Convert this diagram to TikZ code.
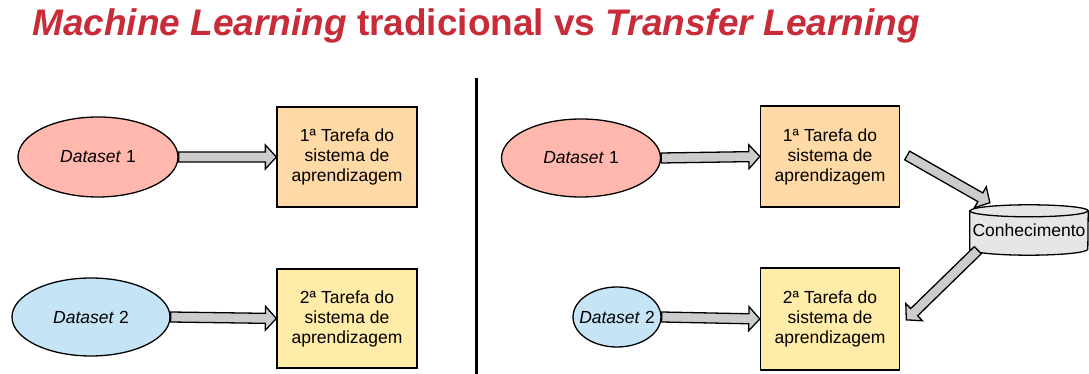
\documentclass[tikz,border=0pt]{standalone}
\usepackage{fontspec}
\setmainfont{Liberation Sans}
\usetikzlibrary{calc,shapes.geometric,backgrounds}

\definecolor{titlered}{RGB}{201,44,57}
\definecolor{dsred}{RGB}{255,183,174}
\definecolor{dsblue}{RGB}{197,228,245}
\definecolor{taskorange}{RGB}{255,217,166}
\definecolor{taskyellow}{RGB}{255,236,168}
\definecolor{arrowgray}{RGB}{204,204,204}
\definecolor{kngray}{RGB}{230,230,230}

% block arrow from #1 to #2
\newcommand{\blockarrow}[2]{%
  \path let \p1=($(#2)-(#1)$) in
    \pgfextra{\pgfmathsetmacro\arrang{atan2(\y1,\x1)}%
      \pgfmathsetmacro\arrlen{veclen(\x1,\y1)}%
      \global\let\arrang\arrang \global\let\arrlen\arrlen};
  \begin{scope}[shift={(#1)},rotate=\arrang]
    \draw[blockarr] (0,-5) -- ({\arrlen-11},-5) -- ({\arrlen-11},-12) -- (\arrlen,0)
      -- ({\arrlen-11},12) -- ({\arrlen-11},5) -- (0,5) -- cycle;
  \end{scope}}

\begin{document}
\begin{tikzpicture}[x=1pt,y=1pt,
  every node/.style={font=\fontsize{17.5}{20}\selectfont},
  dsnode/.style={ellipse,draw,line width=1.3pt,inner sep=0pt},
  taskbox/.style={rectangle,draw,line width=1.3pt,align=center,inner sep=0pt,
    minimum width=140,minimum height=100},
  blockarr/.style={draw,fill=arrowgray,line width=1.3pt,line join=miter},
  knnode/.style={inner sep=0pt,minimum width=118,minimum height=50}]
\useasboundingbox (0,0) rectangle (1089,374);

% title
\node[anchor=base west,inner sep=0pt,text=titlered,
  font=\fontsize{37}{44}\selectfont\bfseries] (title) at (32,338)
  {\textit{Machine Learning} tradicional vs \textit{Transfer Learning}};

\draw[line width=3pt] (476,296) -- (476,0);

% traditional
\node[dsnode,fill=dsred,minimum width=160,minimum height=80] (ds1) at (98,217) {\textit{Dataset} 1};
\node[taskbox,fill=taskorange] (t1) at (347,217) {1ª Tarefa do\\sistema de\\aprendizagem};
\node[dsnode,fill=dsblue,minimum width=158,minimum height=78] (ds2) at (91,57) {\textit{Dataset} 2};
\node[taskbox,fill=taskyellow,minimum height=99] (t2) at (347,55.5) {2ª Tarefa do\\sistema de\\aprendizagem};

% transfer
\node[dsnode,fill=dsred,minimum width=159,minimum height=78] (ds3) at (581,216) {\textit{Dataset} 1};
\node[taskbox,fill=taskorange,minimum width=139,minimum height=101] (t3) at (830,217.5) {1ª Tarefa do\\sistema de\\aprendizagem};
\node[dsnode,fill=dsblue,minimum width=88,minimum height=60] (ds4) at (617,57) {\makebox[0pt]{\textit{Dataset} 2}};
\node[taskbox,fill=taskyellow,minimum width=139,minimum height=102] (t4) at (830,55) {2ª Tarefa do\\sistema de\\aprendizagem};
\node[knnode] (kn) at (1029,144) {Conhecimento};

\begin{pgfonlayer}{background}
\draw[fill=kngray,line width=1.3pt] ([yshift=-6]kn.north west) -- ([yshift=6]kn.south west)
  arc[start angle=180,end angle=360,x radius=59,y radius=6] -- ([yshift=-6]kn.north east)
  arc[start angle=0,end angle=180,x radius=59,y radius=6] -- cycle;
\draw[line width=1.3pt] ([yshift=-6]kn.north west)
  arc[start angle=180,end angle=360,x radius=59,y radius=6];
\end{pgfonlayer}

\coordinate (kin) at ([shift={(-39,2)}]kn.north);
\coordinate (kout) at ([shift={(8,5)}]kn.south west);

% arrows
\blockarrow{ds1.east}{t1.west}
\blockarrow{ds2.east}{t2.west}
\blockarrow{ds3.east}{t3.west}
\blockarrow{ds4.east}{t4.west}
\blockarrow{$(t3.east)+(7,1)$}{kin}
\blockarrow{kout}{$(t4.east)+(6,-1)$}
\end{tikzpicture}
\end{document}
